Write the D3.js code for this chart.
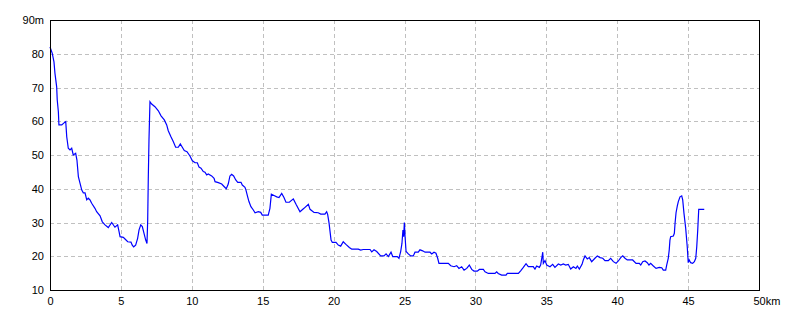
<!DOCTYPE html>
<html>
<head>
<meta charset="utf-8">
<script src="https://cdn.jsdelivr.net/npm/d3@7"></script>
<style>
  body { margin: 0; background: #fff; }
  svg { display: block; }
</style>
</head>
<body>
<div id="chart"></div>
<script>
// Distance along the route (km) and elevation (m)
const distKm = [
  0.00, 0.16, 0.28, 0.35, 0.47, 0.51, 0.59, 0.63, 0.83, 1.01, 1.11, 1.18, 1.29, 1.41, 1.53, 1.64, 1.81, 1.90,
  2.00, 2.12, 2.24, 2.35, 2.47, 2.59, 2.70, 2.82, 2.94, 3.17, 3.29, 3.53, 3.69, 3.88, 4.11, 4.35, 4.58, 4.77,
  4.87, 4.94, 5.17, 5.29, 5.48, 5.71, 5.80, 5.90, 6.04, 6.18, 6.28, 6.40, 6.51, 6.63, 6.75, 6.84, 6.89, 6.93,
  6.98, 7.05, 7.17, 7.40, 7.64, 7.83, 8.06, 8.23, 8.34, 8.53, 8.70, 8.86, 9.05, 9.19, 9.33, 9.47, 9.66, 9.87,
  10.04, 10.23, 10.39, 10.51, 10.65, 10.81, 10.93, 11.05, 11.16, 11.40, 11.57, 11.64, 11.87, 12.11, 12.29,
  12.43, 12.57, 12.69, 12.81, 12.95, 13.10, 13.24, 13.47, 13.56, 13.75, 13.82, 13.94, 14.03, 14.17, 14.34,
  14.46, 14.69, 14.86, 14.97, 15.39, 15.51, 15.61, 15.80, 15.99, 16.15, 16.34, 16.50, 16.64, 16.88, 17.16,
  17.35, 17.63, 17.91, 18.22, 18.34, 18.62, 18.92, 19.09, 19.39, 19.51, 19.58, 19.68, 19.75, 19.82, 19.91,
  20.17, 20.33, 20.50, 20.68, 20.87, 21.11, 21.28, 21.74, 21.91, 22.09, 22.57, 22.69, 22.85, 23.04, 23.32,
  23.55, 23.70, 23.86, 24.05, 24.17, 24.49, 24.61, 24.73, 24.82, 24.89, 24.94, 24.99, 25.04, 25.11, 25.27,
  25.44, 25.62, 25.74, 25.97, 26.09, 26.28, 26.45, 26.80, 26.92, 27.08, 27.22, 27.34, 27.43, 28.09, 28.26,
  28.49, 28.68, 28.84, 29.03, 29.20, 29.39, 29.57, 29.74, 29.90, 30.13, 30.28, 30.56, 30.68, 30.91, 31.38,
  31.50, 31.61, 31.85, 32.16, 32.25, 33.03, 33.19, 33.38, 33.57, 33.73, 34.08, 34.20, 34.32, 34.51, 34.60,
  34.70, 34.75, 34.79, 34.91, 35.03, 35.26, 35.45, 35.61, 35.85, 36.02, 36.20, 36.37, 36.55, 36.72, 36.91,
  37.09, 37.19, 37.33, 37.52, 37.61, 37.73, 37.89, 38.03, 38.20, 38.43, 38.60, 38.79, 38.98, 39.14, 39.37,
  39.54, 39.73, 39.92, 40.08, 40.25, 40.39, 40.55, 40.71, 41.09, 41.33, 41.56, 41.66, 41.80, 41.96, 42.12,
  42.24, 42.36, 42.55, 42.74, 42.97, 43.14, 43.25, 43.42, 43.49, 43.60, 43.67, 43.72, 43.77, 43.96, 44.03,
  44.08, 44.15, 44.24, 44.31, 44.43, 44.55, 44.62, 44.71, 44.83, 44.94, 45.01, 45.08, 45.18, 45.32, 45.44,
  45.54, 45.61, 45.68, 45.75, 46.14
]
const elevM = [
  82.0, 80.1, 77.6, 74.2, 70.2, 66.3, 62.8, 58.9, 58.9, 59.6, 59.9, 55.4, 52.0, 51.5, 52.0, 50.0, 50.5, 48.5,
  43.6, 41.6, 39.6, 38.8, 38.8, 36.7, 37.2, 36.7, 35.7, 34.2, 33.2, 32.0, 30.2, 29.3, 28.5, 30.0, 28.6, 29.3,
  27.3, 25.8, 25.6, 25.1, 24.3, 24.2, 23.3, 22.8, 23.3, 25.3, 27.8, 29.3, 28.8, 26.8, 24.8, 23.8, 30.7, 42.6,
  54.4, 65.8, 65.1, 64.3, 63.1, 61.6, 60.4, 58.9, 57.2, 55.4, 53.9, 52.3, 52.3, 53.3, 52.3, 51.3, 51.0, 49.7,
  48.3, 47.7, 47.7, 46.4, 46.1, 45.1, 44.9, 44.1, 44.4, 43.8, 43.1, 42.1, 41.8, 41.4, 40.6,
  40.0, 41.4, 43.8, 44.3, 43.8, 42.6, 41.9, 41.9, 41.1, 40.4, 39.6, 37.6, 36.2, 34.7, 33.7,
  32.9, 33.2, 33.0, 32.2, 32.2, 34.2, 38.4, 38.0, 37.6, 37.4, 38.6, 37.4, 36.0, 36.0, 37.0,
  35.4, 33.2, 34.2, 35.4, 33.9, 33.0, 32.9, 32.5, 32.5, 33.2, 32.4, 29.8, 27.3, 24.8, 24.1,
  24.1, 23.3, 23.0, 24.3, 23.5, 22.6, 22.1, 22.1, 21.8, 22.0, 22.0, 21.3, 21.9, 21.4, 20.1,
  20.1, 20.7, 19.9, 21.2, 19.9, 19.9, 19.4, 21.4, 23.8, 27.8, 25.8, 30.0, 25.8, 21.4, 20.7,
  20.1, 20.1, 21.2, 21.2, 21.9, 21.6, 21.2, 21.2, 20.7, 21.2, 20.9, 19.4, 17.9, 17.9, 17.2,
  16.9, 17.2, 16.4, 16.9, 15.9, 16.4, 17.4, 16.1, 15.6, 15.6, 16.1, 16.1, 15.4, 14.9, 14.9,
  15.4, 14.9, 14.4, 14.4, 14.9, 14.9, 15.7, 16.7, 17.8, 16.9, 16.9, 16.2, 17.1, 16.7, 17.4,
  19.9, 21.2, 17.9, 18.7, 17.4, 16.9, 17.6, 16.7, 17.7, 17.4, 17.7, 17.4, 17.6, 16.2, 16.9,
  16.4, 17.1, 16.2, 17.6, 18.9, 20.1, 19.2, 19.6, 18.4, 19.4, 20.1, 19.6, 19.4, 18.7, 18.7,
  19.4, 18.4, 17.9, 18.6, 19.6, 20.1, 19.4, 18.9, 18.9, 17.9, 17.9, 17.4, 18.4, 18.6, 18.1,
  17.4, 17.9, 17.1, 16.4, 16.7, 16.6, 15.9, 15.9, 17.4, 19.4, 21.9, 24.8, 25.8, 26.0, 26.8,
  29.8, 32.9, 34.9, 36.2, 37.6, 37.9, 36.7, 32.7, 28.3, 22.8, 18.1, 18.9, 18.1, 17.9, 18.4,
  19.4, 22.8, 27.8, 33.9, 33.9
]

const xTicks = [0, 5, 10, 15, 20, 25, 30, 35, 40, 45, 50]
const yTicks = [10, 20, 30, 40, 50, 60, 70, 80, 90]
const xUnit = "km"
const yUnit = "m"

const width = 800
const height = 320
const margin = { top: 20, right: 41, bottom: 30, left: 50 }

const x = d3.scaleLinear().domain([0, 50]).range([margin.left, width - margin.right])
const y = d3.scaleLinear().domain([10, 90]).range([height - margin.bottom, margin.top])

const font = "'Liberation Sans', Arial, sans-serif"

const svg = d3.select("#chart")
  .append("svg")
  .attr("width", width)
  .attr("height", height)
  .style("font-family", font)
  .style("font-size", "11px")

// Dashed grid
const grid = svg.append("g")
  .attr("stroke", "#c0c0c0")
  .attr("stroke-dasharray", "4,3")
  .attr("shape-rendering", "crispEdges")

grid.selectAll(".vgrid")
  .data(xTicks.slice(1, -1))
  .enter()
  .append("line")
  .attr("class", "vgrid")
  .attr("x1", d => Math.round(x(d)) + 0.5)
  .attr("x2", d => Math.round(x(d)) + 0.5)
  .attr("y1", margin.top)
  .attr("y2", height - margin.bottom)

grid.selectAll(".hgrid")
  .data(yTicks.slice(1, -1))
  .enter()
  .append("line")
  .attr("class", "hgrid")
  .attr("x1", margin.left)
  .attr("x2", width - margin.right)
  .attr("y1", d => Math.round(y(d)) + 0.5)
  .attr("y2", d => Math.round(y(d)) + 0.5)

// Profile line
const line = d3.line()
  .x((_, i) => x(distKm[i]))
  .y(d => y(d))

svg.append("path")
  .datum(elevM)
  .attr("fill", "none")
  .attr("stroke", "#0000ff")
  .attr("stroke-width", 1.2)
  .attr("stroke-linejoin", "miter")
  .attr("d", line)

// Frame
svg.append("rect")
  .attr("x", margin.left + 0.5)
  .attr("y", margin.top + 0.5)
  .attr("width", width - margin.left - margin.right)
  .attr("height", height - margin.top - margin.bottom)
  .attr("fill", "none")
  .attr("stroke", "#000")
  .attr("shape-rendering", "crispEdges")

// Axes (labels only, frame drawn above)
const xAxis = svg.append("g")
  .attr("transform", `translate(0,${height - margin.bottom})`)
  .call(d3.axisBottom(x).tickValues(xTicks).tickSize(0).tickPadding(7))
xAxis.select(".domain").remove()
xAxis.selectAll("text").style("font-family", font).style("font-size", "11px").attr("fill", "#000")
xAxis.selectAll(".tick").filter(d => d === 50).select("text")
  .attr("text-anchor", "start")
  .attr("x", -6)
  .text(d => d + xUnit)

const yAxis = svg.append("g")
  .attr("transform", `translate(${margin.left},0)`)
  .call(d3.axisLeft(y).tickValues(yTicks).tickSize(0).tickPadding(6))
yAxis.select(".domain").remove()
yAxis.selectAll("text").style("font-family", font).style("font-size", "11px").attr("fill", "#000")
yAxis.selectAll(".tick").filter(d => d === 90).select("text")
  .text(d => d + yUnit)
</script>
</body>
</html>
